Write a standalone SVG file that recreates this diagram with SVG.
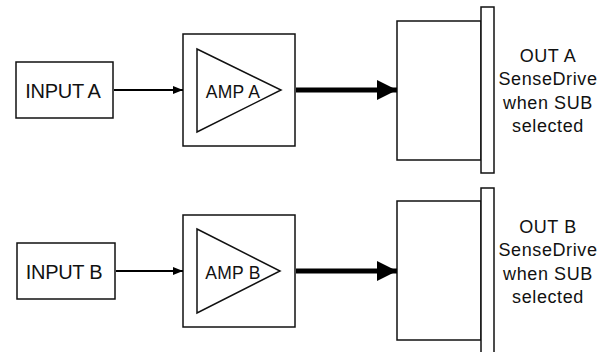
<svg xmlns="http://www.w3.org/2000/svg" width="606" height="352" viewBox="0 0 606 352">
<style>
.box{fill:#fff;stroke:#111;stroke-width:1.5}
.tri{fill:none;stroke:#111;stroke-width:1.5}
.t{font-family:"Liberation Sans",Arial,sans-serif;fill:#111;text-anchor:middle}
.lbl{font-size:20px;letter-spacing:-0.3px}
.amp{font-size:17.5px;letter-spacing:0.3px}
.out{font-size:18px;letter-spacing:0.6px}
.thin{stroke:#000;stroke-width:2;fill:none}
.thick{stroke:#000;stroke-width:5;fill:none}
</style>
<defs>
<marker id="ah" markerWidth="10" markerHeight="8" refX="10" refY="4" orient="auto" markerUnits="userSpaceOnUse"><path d="M0,0 L10,4 L0,8 Z" fill="#000"/></marker>
<marker id="ahb" markerWidth="20" markerHeight="20" refX="20" refY="10" orient="auto" markerUnits="userSpaceOnUse"><path d="M0,0 L20,10 L0,20 Z" fill="#000"/></marker>
</defs>
<g id="inputA"><rect class="box" x="16" y="62" width="97" height="56"/><text class="t lbl" x="63" y="98">INPUT A</text></g>
<g id="ampA"><rect class="box" x="183" y="34" width="112" height="112"/><path class="tri" d="M197,49 L281,90 L197,132 Z"/><text class="t amp" x="233" y="98">AMP A</text></g>
<g id="outA"><rect class="box" x="397" y="21" width="84" height="139"/><rect class="box" x="481" y="7" width="13" height="166"/>
<text class="t out" x="548" y="62">OUT A</text><text class="t out" x="548" y="85">SenseDrive</text><text class="t out" x="548" y="109">when SUB</text><text class="t out" x="548" y="132">selected</text></g>
<g id="inputB"><rect class="box" x="17" y="243" width="98" height="56"/><text class="t lbl" x="64" y="279">INPUT B</text></g>
<g id="ampB"><rect class="box" x="183" y="215" width="112" height="112"/><path class="tri" d="M197,229 L280,271 L197,313 Z"/><text class="t amp" x="233" y="279">AMP B</text></g>
<g id="outB"><rect class="box" x="397" y="201" width="84" height="139"/><rect class="box" x="481" y="188" width="13" height="168"/>
<text class="t out" x="548" y="233">OUT B</text><text class="t out" x="548" y="256">SenseDrive</text><text class="t out" x="548" y="280">when SUB</text><text class="t out" x="548" y="303">selected</text></g>
<g id="connectors">
<line class="thin" x1="114" y1="90" x2="183" y2="90" marker-end="url(#ah)"/>
<line class="thick" x1="296" y1="90" x2="397" y2="90" marker-end="url(#ahb)"/>
<line class="thin" x1="116" y1="271" x2="183" y2="271" marker-end="url(#ah)"/>
<line class="thick" x1="296" y1="271" x2="397" y2="271" marker-end="url(#ahb)"/>
</g>
</svg>
